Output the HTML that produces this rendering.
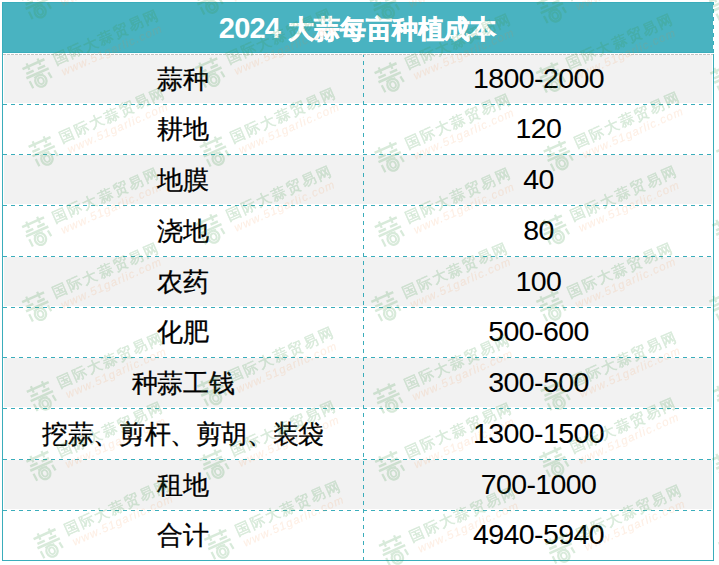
<!DOCTYPE html>
<html><head><meta charset="utf-8"><style>
html,body{margin:0;padding:0;background:#fff;width:719px;height:565px;overflow:hidden;position:relative;font-family:"Liberation Sans",sans-serif}
div{position:absolute;box-sizing:border-box}
.hdr{left:2px;top:2px;width:711px;height:51px;background:#49b3c1;border-top:1px solid #3aadbb;border-bottom:1px solid #3aadbb;border-left:1px solid #3aadbb}
.hdr-r{left:713px;top:2px;width:1px;height:51px;background:linear-gradient(to bottom,#3aadbb 0 4px,transparent 4px 8px);background-size:1px 8px;background-position:0 -1px}
.title{left:2px;top:2px;width:712px;height:51px;display:flex;align-items:baseline;justify-content:center;color:#fff;font-weight:bold;padding-top:11px;padding-right:1px;line-height:30px}
.title .n{font-size:29px;letter-spacing:-0.8px}
.title .z{font-size:25.5px;margin-left:8px;-webkit-text-stroke:0.6px #fff}
.gd{left:3px;top:54px;width:710px;height:1px;background:linear-gradient(to right,#c4c4c4 0 3px,transparent 3px 4px);background-size:4px 1px}
.g{left:4px;width:708px;background:#f2f2f2}
.hd{left:3px;width:710px;height:1px;background:linear-gradient(to right,#3aadbb 0 4px,transparent 4px 8px);background-size:8px 1px}
.vd{left:363px;top:55px;width:1px;height:505px;background:linear-gradient(to bottom,#3aadbb 0 4px,transparent 4px 8px);background-size:1px 8px;background-position:0 -2px}
.bl{left:2px;top:53px;width:1px;height:508px;background:#3aadbb}
.br{left:713px;top:54px;width:1px;height:507px;background:#3aadbb}
.bb{left:2px;top:560px;width:712px;height:1px;background:#3aadbb}
.c{display:flex;align-items:center;justify-content:center;color:#000;padding-top:0px}
.c.r span{position:relative;top:-1px}
.c.l{left:3px;width:360px;font-size:25.5px;letter-spacing:-0.4px;-webkit-text-stroke:0.3px #000}
.c.r{left:364px;width:349px;font-size:28.5px;letter-spacing:-0.6px;-webkit-text-stroke:0.05px #000}
</style></head><body>
<div class="hdr"></div><div class="hdr-r"></div>
<div class="title"><span class="n">2024</span><span class="z">大蒜每亩种植成本</span></div>
<div class="gd"></div>
<div class="g" style="top:55px;height:48px"></div><div class="g" style="top:155px;height:49px"></div><div class="g" style="top:257px;height:49px"></div><div class="g" style="top:358px;height:49px"></div><div class="g" style="top:460px;height:49px"></div><div class="hd" style="top:104px"></div><div class="hd" style="top:154px"></div><div class="hd" style="top:205px"></div><div class="hd" style="top:256px"></div><div class="hd" style="top:307px"></div><div class="hd" style="top:357px"></div><div class="hd" style="top:408px"></div><div class="hd" style="top:459px"></div><div class="hd" style="top:510px"></div>
<div class="vd"></div>
<div class="bl"></div><div class="br"></div><div class="bb"></div>
<div class="c l" style="top:55px;height:49px"><span>蒜种</span></div><div class="c r" style="top:55px;height:49px"><span>1800-2000</span></div><div class="c l" style="top:105px;height:49px"><span>耕地</span></div><div class="c r" style="top:105px;height:49px"><span>120</span></div><div class="c l" style="top:155px;height:50px"><span>地膜</span></div><div class="c r" style="top:155px;height:50px"><span>40</span></div><div class="c l" style="top:206px;height:50px"><span>浇地</span></div><div class="c r" style="top:206px;height:50px"><span>80</span></div><div class="c l" style="top:257px;height:50px"><span>农药</span></div><div class="c r" style="top:257px;height:50px"><span>100</span></div><div class="c l" style="top:308px;height:49px"><span>化肥</span></div><div class="c r" style="top:308px;height:49px"><span>500-600</span></div><div class="c l" style="top:358px;height:50px"><span>种蒜工钱</span></div><div class="c r" style="top:358px;height:50px"><span>300-500</span></div><div class="c l" style="top:409px;height:50px"><span>挖蒜、剪杆、剪胡、装袋</span></div><div class="c r" style="top:409px;height:50px"><span>1300-1500</span></div><div class="c l" style="top:460px;height:50px"><span>租地</span></div><div class="c r" style="top:460px;height:50px"><span>700-1000</span></div><div class="c l" style="top:511px;height:49px"><span>合计</span></div><div class="c r" style="top:511px;height:49px"><span>4940-5940</span></div>
<svg width="719" height="565" style="position:absolute;left:0;top:0"><defs><g id="wm"><g transform="rotate(-24.0)"><g stroke="rgb(60,150,70)" stroke-width="2.5" fill="none" stroke-linecap="butt"><line x1="-12" y1="-19" x2="12" y2="-19"/><line x1="-6" y1="-22.5" x2="-6" y2="-15.5" stroke-width="2.2"/><line x1="6" y1="-22.5" x2="6" y2="-15.5" stroke-width="2.2"/><line x1="-10.5" y1="-13" x2="-2.5" y2="-13"/><line x1="2" y1="-13" x2="10" y2="-13"/><line x1="-12.2" y1="-9" x2="12.2" y2="-9"/><line x1="-10.4" y1="-5" x2="-10" y2="3" stroke-width="2.2"/><line x1="10.2" y1="-5.5" x2="11" y2="1" stroke-width="2.2"/><ellipse cx="0" cy="-0.8" rx="5.6" ry="6" stroke-width="2.2"/><ellipse cx="0" cy="-0.8" rx="2.8" ry="3.4" stroke-width="1.8"/><line x1="-5" y1="-6.5" x2="5" y2="-6.5" stroke-width="1.4"/></g><text x="20" y="-9.2" font-size="14.5" letter-spacing="1.5" fill="rgb(60,150,70)" stroke="rgb(60,150,70)" stroke-width="0.5">国际大蒜贸易网</text><text x="22.6" y="3.8" font-size="11.5" font-style="italic" letter-spacing="1.05" fill="rgb(245,130,50)" fill-opacity="0.6" stroke="rgb(245,130,50)" stroke-opacity="0.6" stroke-width="0.15">www.51garlic.com</text></g></g></defs><g opacity="0.2" font-family="Liberation Sans, sans-serif"><use href="#wm" x="40.5" y="12.2"/><use href="#wm" x="212.3" y="7.6"/><use href="#wm" x="388.6" y="13.5"/><use href="#wm" x="555.5" y="16.3"/><use href="#wm" x="728.0" y="14.0"/><use href="#wm" x="41.2" y="81.5"/><use href="#wm" x="214.0" y="80.7"/><use href="#wm" x="393.3" y="85.5"/><use href="#wm" x="554.8" y="85.6"/><use href="#wm" x="729.0" y="86.0"/><use href="#wm" x="47.3" y="159.4"/><use href="#wm" x="218.5" y="159.6"/><use href="#wm" x="393.3" y="165.4"/><use href="#wm" x="562.4" y="164.1"/><use href="#wm" x="735.0" y="164.0"/><use href="#wm" x="40.8" y="239.7"/><use href="#wm" x="214.0" y="237.4"/><use href="#wm" x="393.5" y="239.6"/><use href="#wm" x="558.6" y="237.8"/><use href="#wm" x="731.0" y="238.0"/><use href="#wm" x="40.8" y="314.7"/><use href="#wm" x="390.0" y="314.3"/><use href="#wm" x="555.1" y="314.3"/><use href="#wm" x="728.0" y="314.0"/><use href="#wm" x="45.5" y="404.3"/><use href="#wm" x="216.0" y="399.0"/><use href="#wm" x="392.0" y="406.5"/><use href="#wm" x="559.4" y="403.5"/><use href="#wm" x="732.0" y="404.0"/><use href="#wm" x="45.1" y="474.0"/><use href="#wm" x="218.2" y="472.6"/><use href="#wm" x="393.8" y="474.3"/><use href="#wm" x="558.0" y="470.0"/><use href="#wm" x="731.0" y="472.0"/><use href="#wm" x="52.3" y="551.5"/><use href="#wm" x="223.1" y="552.4"/><use href="#wm" x="397.7" y="558.4"/><use href="#wm" x="564.2" y="556.6"/><use href="#wm" x="737.0" y="556.0"/><use href="#wm" x="-132.0" y="12.2"/><use href="#wm" x="-131.3" y="81.5"/><use href="#wm" x="-125.2" y="159.4"/><use href="#wm" x="-131.7" y="239.7"/><use href="#wm" x="-131.7" y="314.7"/><use href="#wm" x="-127.0" y="404.3"/><use href="#wm" x="-127.4" y="474.0"/><use href="#wm" x="-120.2" y="551.5"/></g></svg>
</body></html>
